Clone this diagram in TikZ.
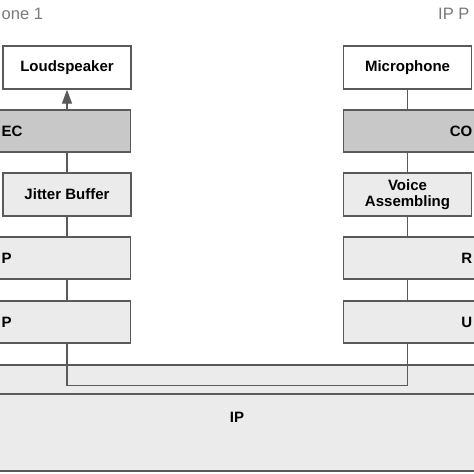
\documentclass[tikz,border=0pt]{standalone}
\usepackage{fontspec}
\setmainfont{Liberation Sans}
\usetikzlibrary{arrows.meta}
\definecolor{edgegray}{HTML}{5A5A5A}
\definecolor{lightfill}{HTML}{EBEBEB}
\definecolor{darkfill}{HTML}{C8C8C8}
\definecolor{titlegray}{HTML}{7A7A7A}
\begin{document}
\begin{tikzpicture}[x=1pt,y=-1pt,
  boxfont/.style={font=\fontsize{15}{17}\selectfont\bfseries},
  box/.style={draw=edgegray, line width=1.4pt, inner sep=0pt, align=center, boxfont},
  narrowbox/.style={box, minimum width=128pt, minimum height=43pt},
  widebox/.style={box, minimum width=277pt, minimum height=42pt},
  fragment/.style={boxfont, inner sep=0pt},
  conn/.style={draw=edgegray, line width=1.4pt},
  arrowconn/.style={conn, -{Triangle[length=14pt,width=10pt]}},
  phonetitle/.style={font=\fontsize{16.5}{18}\selectfont, text=titlegray, inner sep=0pt}]
\useasboundingbox (0,0) rectangle (474,474);
\clip (0,0) rectangle (474,474);
\fill[white] (0,0) rectangle (474,474);

% titles (cut by the picture's edges in the reference)
\node[phonetitle, anchor=base west] (t1) at (1.5,19) {one 1};
\node[phonetitle, anchor=base west] (t2) at (438,19) {IP P};

% lower layers
\node[box, fill=lightfill, minimum width=520pt, minimum height=29pt] (band) at (237,379.5) {};
\node[box, fill=lightfill, minimum width=520pt, minimum height=77pt,
      text height=10pt, text depth=30pt] (ip) at (237,432.5) {IP};

% left column (phone 1)
\node[narrowbox, fill=white] (ls) at (67,67.5) {Loudspeaker};
\node[widebox, fill=darkfill] (codec1) at (-8,131) {};
\node[narrowbox, fill=lightfill] (jb) at (67,194.5) {Jitter Buffer};
\node[widebox, fill=lightfill] (rtp1) at (-8,258) {};
\node[widebox, fill=lightfill] (udp1) at (-8,322) {};
\node[fragment, anchor=west] (codec1t) at (1.5,131) {EC};
\node[fragment, anchor=west] (rtp1t) at (1.5,258) {P};
\node[fragment, anchor=west] (udp1t) at (1.5,322) {P};

% right column (phone 2)
\node[narrowbox, fill=white] (mic) at (407.5,67.5) {Microphone};
\node[widebox, fill=darkfill] (codec2) at (482,131) {};
\node[narrowbox, fill=lightfill] (va) at (407.5,194.5) {Voice\\[-1pt]Assembling};
\node[widebox, fill=lightfill] (rtp2) at (482,258) {};
\node[widebox, fill=lightfill] (udp2) at (482,322) {};
\node[fragment, anchor=east] (codec2t) at (472.5,131) {CO};
\node[fragment, anchor=east] (rtp2t) at (472.5,258) {R};
\node[fragment, anchor=east] (udp2t) at (472.5,322) {U};

% connectors left
\draw[arrowconn] (ls.south |- codec1.north) -- (ls.south);
\draw[conn] (jb.north) -- (jb.north |- codec1.south);
\draw[conn] (jb.south) -- (jb.south |- rtp1.north);
\draw[conn] (jb.south |- rtp1.south) -- (jb.south |- udp1.north);

% connectors right
\draw[conn] (mic.south) -- (mic.south |- codec2.north);
\draw[conn] (va.north) -- (va.north |- codec2.south);
\draw[conn] (va.south) -- (va.south |- rtp2.north);
\draw[conn] (va.south |- rtp2.south) -- (va.south |- udp2.north);

% network link
\coordinate (turnL) at (67,385.5);
\coordinate (turnR) at (407.5,385.5);
\draw[conn] (jb.south |- udp1.south) -- (turnL) -- (turnR) -- (va.south |- udp2.south);
\end{tikzpicture}
\end{document}
